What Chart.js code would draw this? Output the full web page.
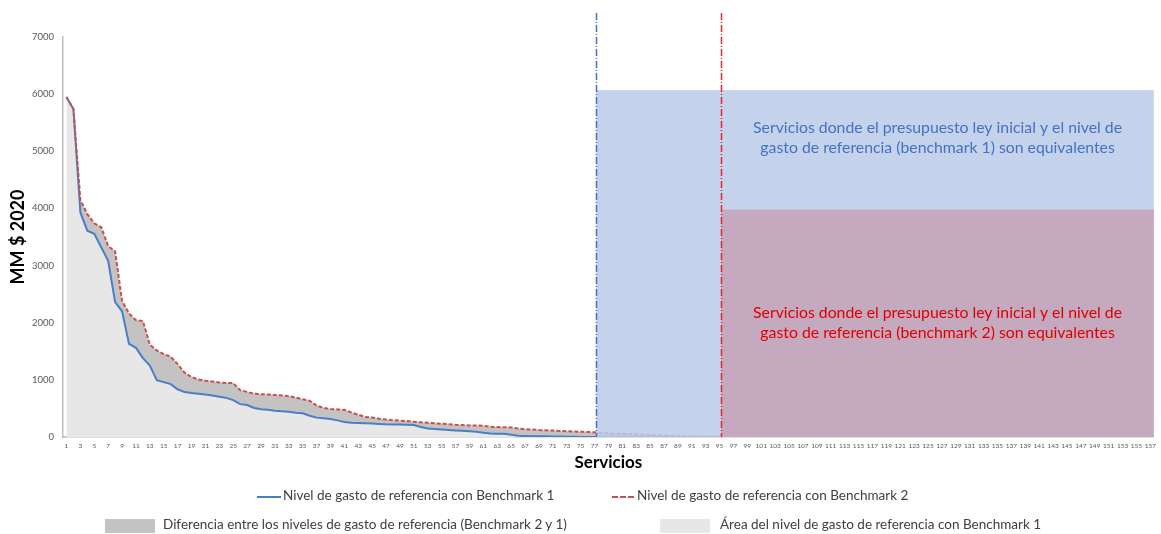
<!DOCTYPE html>
<html lang="es">
<head>
<meta charset="utf-8">
<title>Niveles de gasto de referencia</title>
<script src="https://cdn.jsdelivr.net/npm/chart.js@4.4.1/dist/chart.umd.min.js"></script>
<style>
  html, body { margin: 0; padding: 0; background: #fff; }
  #wrap { position: relative; width: 1161px; height: 534px; font-family: Lato, "Open Sans", sans-serif; }
  #chart { position: absolute; left: 0; top: 0; }
  .leg { position: absolute; font-size: 13.5px; color: #404040; white-space: nowrap; line-height: 16px; }
  .sw { display: inline-block; vertical-align: middle; }
</style>
</head>
<body>
<div id="wrap">
  <canvas id="chart" width="1161" height="534"></canvas>
  <div class="leg" style="left:257px; top:487px;"><span class="sw" style="width:24px; border-top:2px solid #4A7EC7; margin-right:2px;"></span>Nivel de gasto de referencia con Benchmark 1</div>
  <div class="leg" style="left:612px; top:487px;"><span class="sw" style="width:22px; border-top:2px dashed #C9504C; margin-right:3px;"></span>Nivel de gasto de referencia con Benchmark 2</div>
  <div class="leg" style="left:105px; top:516px;"><span class="sw" style="width:50px; height:14px; background:#C3C3C3; margin-right:8px;"></span>Diferencia entre los niveles de gasto de referencia (Benchmark 2 y 1)</div>
  <div class="leg" style="left:660px; top:516px;"><span class="sw" style="width:50px; height:14px; background:#E7E7E7; margin-right:10px;"></span>Área del nivel de gasto de referencia con Benchmark 1</div>
</div>
<script>
// categories: servicios 1..157
var categories = Array.from({ length: 157 }, function (_, i) { return String(i + 1); });

// MM $ 2020
var benchmark1 = [
  5950, 5740, 3930, 3610, 3555, 3320, 3085, 2360, 2200, 1630,
  1560, 1380, 1250, 995, 960, 925, 835, 786, 769, 758,
  743, 725, 705, 685, 645, 575, 560, 507, 484, 478,
  460, 449, 443, 425, 415, 373, 339, 327, 314, 291,
  262, 251, 245, 239, 235, 228, 222, 220, 218, 215,
  210, 175, 150, 140, 130, 122, 115, 108, 100, 92,
  75, 60, 58, 55, 40, 20, 17, 15, 14, 13,
  10, 8, 5, 3, 2, 1, 0, 0, 0, 0,
  0, 0, 0, 0, 0, 0, 0, 0, 0, 0,
  0, 0, 0, 0, 0, 0, 0, 0, 0, 0,
  0, 0, 0, 0, 0, 0, 0, 0, 0, 0,
  0, 0, 0, 0, 0, 0, 0, 0, 0, 0,
  0, 0, 0, 0, 0, 0, 0, 0, 0, 0,
  0, 0, 0, 0, 0, 0, 0, 0, 0, 0,
  0, 0, 0, 0, 0, 0, 0, 0, 0, 0,
  0, 0, 0, 0, 0, 0, 0
];

var benchmark2 = [
  5950, 5740, 4150, 3900, 3740, 3670, 3340, 3250, 2380, 2160,
  2045, 2030, 1615, 1515, 1450, 1405, 1275, 1125, 1048, 1005,
  985, 970, 955, 945, 943, 820, 790, 757, 748, 745,
  735, 728, 715, 690, 660, 635, 550, 510, 490, 483,
  475, 430, 390, 350, 340, 320, 305, 295, 285, 278,
  265, 258, 250, 240, 232, 225, 215, 208, 202, 200,
  198, 180, 175, 170, 168, 150, 135, 130, 122, 118,
  112, 105, 100, 95, 92, 88, 82, 72, 62, 58,
  55, 50, 45, 40, 36, 32, 28, 22, 18, 15,
  12, 10, 7, 5, 2, 0, 0, 0, 0, 0,
  0, 0, 0, 0, 0, 0, 0, 0, 0, 0,
  0, 0, 0, 0, 0, 0, 0, 0, 0, 0,
  0, 0, 0, 0, 0, 0, 0, 0, 0, 0,
  0, 0, 0, 0, 0, 0, 0, 0, 0, 0,
  0, 0, 0, 0, 0, 0, 0, 0, 0, 0,
  0, 0, 0, 0, 0, 0, 0
];

var yTicks = [0, 1000, 2000, 3000, 4000, 5000, 6000, 7000];

// shaded zones (category index, value units)
var zoneStart = [76.25, 94.25];
var zoneEnd = [156.5, 156.5];
var zoneTop = [6070, 3980];
var zoneText = [
  ["Servicios donde el presupuesto ley inicial y el nivel de", "gasto de referencia (benchmark 1) son equivalentes"],
  ["Servicios donde el presupuesto ley inicial y el nivel de", "gasto de referencia (benchmark 2) son equivalentes"]
];
var zoneTextY = [5235, 1990];
var markerTop = 7420;

var zoneFill = ["rgba(186,203,233,0.86)", "#C4A9BF"];
var zoneLineColor = ["#4472C4", "#E3282C"];
var zoneTextColor = ["#4472C4", "#E00000"];

var zonesPlugin = {
  id: "zones",
  afterDatasetsDraw: function (chart) {
    var ctx = chart.ctx;
    var x = chart.scales.x;
    var y = chart.scales.y;
    var y0 = y.getPixelForValue(0);

    ctx.save();
    // rectangles
    for (var i = 0; i < zoneStart.length; i++) {
      var x1 = x.getPixelForValue(zoneStart[i]);
      var x2 = x.getPixelForValue(zoneEnd[i]);
      var yt = y.getPixelForValue(zoneTop[i]);
      ctx.fillStyle = zoneFill[i];
      ctx.fillRect(x1, yt, x2 - x1, y0 - yt);
    }
    // dash-dot vertical markers
    for (var j = 0; j < zoneStart.length; j++) {
      var xm = Math.round(x.getPixelForValue(zoneStart[j])) + 0.5;
      ctx.beginPath();
      ctx.setLineDash([7, 2, 1, 2]);
      ctx.lineWidth = 1.5;
      ctx.strokeStyle = zoneLineColor[j];
      ctx.moveTo(xm, y.getPixelForValue(markerTop));
      ctx.lineTo(xm, y0);
      ctx.stroke();
    }
    ctx.setLineDash([]);
    // captions, centered on the second zone
    var cx = (x.getPixelForValue(zoneStart[1]) + x.getPixelForValue(zoneEnd[1])) / 2;
    ctx.font = "15.8px Lato, 'Open Sans', sans-serif";
    ctx.textAlign = "center";
    ctx.textBaseline = "middle";
    for (var k = 0; k < zoneText.length; k++) {
      var cy = y.getPixelForValue(zoneTextY[k]);
      ctx.fillStyle = zoneTextColor[k];
      ctx.fillText(zoneText[k][0], cx, cy - 10);
      ctx.fillText(zoneText[k][1], cx, cy + 10);
    }
    ctx.restore();
  }
};

Chart.defaults.font.family = "Lato, 'Open Sans', sans-serif";

var ctx = document.getElementById("chart").getContext("2d");
var chart = new Chart(ctx, {
  type: "line",
  data: {
    labels: categories,
    datasets: [
      {
        label: "Área del nivel de gasto de referencia con Benchmark 1",
        data: benchmark1,
        fill: "origin",
        backgroundColor: "#E7E7E7",
        borderWidth: 0,
        pointRadius: 0,
        order: 4,
      },
      {
        label: "Diferencia entre los niveles de gasto de referencia (Benchmark 2 y 1)",
        data: benchmark2,
        fill: "-1",
        backgroundColor: "#C3C3C3",
        borderWidth: 0,
        pointRadius: 0,
        order: 3,
      },
      {
        label: "Nivel de gasto de referencia con Benchmark 1",
        data: benchmark1,
        fill: false,
        borderColor: "#4A7EC7",
        borderWidth: 2,
        pointRadius: 0,
        tension: 0,
        order: 2,
      },
      {
        label: "Nivel de gasto de referencia con Benchmark 2",
        data: benchmark2,
        fill: false,
        borderColor: "#C9504C",
        borderWidth: 2,
        borderDash: [4, 2],
        pointRadius: 0,
        tension: 0,
        order: 1,
      },
    ],
  },
  options: {
    responsive: false,
    animation: false,
    layout: { padding: { top: 37, right: 3, bottom: 57, left: 0 } },
    plugins: {
      legend: { display: false },
      tooltip: { enabled: false },
    },
    scales: {
      x: {
        offset: true,
        grid: { display: false, drawTicks: false },
        border: { color: "#BFBFBF", width: 1.5 },
        ticks: {
          autoSkip: false,
          maxRotation: 0,
          padding: 5,
          color: "#595959",
          font: { size: 6.5 },
          callback: function (value, index) {
            return index % 2 === 0 ? categories[index] : null;
          },
        },
        title: {
          display: true,
          text: "Servicios",
          color: "#000",
          font: { size: 17, weight: "bold" },
          padding: { top: 0, bottom: 4 },
        },
        afterFit: function (scale) {
          scale.height = 40;
        },
      },
      y: {
        min: 0,
        max: 7000,
        grid: { display: false, drawTicks: false },
        border: { color: "#BFBFBF", width: 1.5 },
        afterBuildTicks: function (scale) {
          scale.ticks = yTicks.map(function (v) { return { value: v }; });
        },
        ticks: {
          padding: 9,
          color: "#595959",
          font: { size: 9.5 },
          callback: function (value) {
            return String(value);
          },
        },
        title: {
          display: true,
          text: "MM $ 2020",
          color: "#000",
          font: { size: 18, weight: "bold" },
          padding: { top: 7, bottom: 0 },
        },
        afterFit: function (scale) {
          scale.width = 63;
        },
      },
    },
  },
  plugins: [zonesPlugin],
});
</script>
</body>
</html>
